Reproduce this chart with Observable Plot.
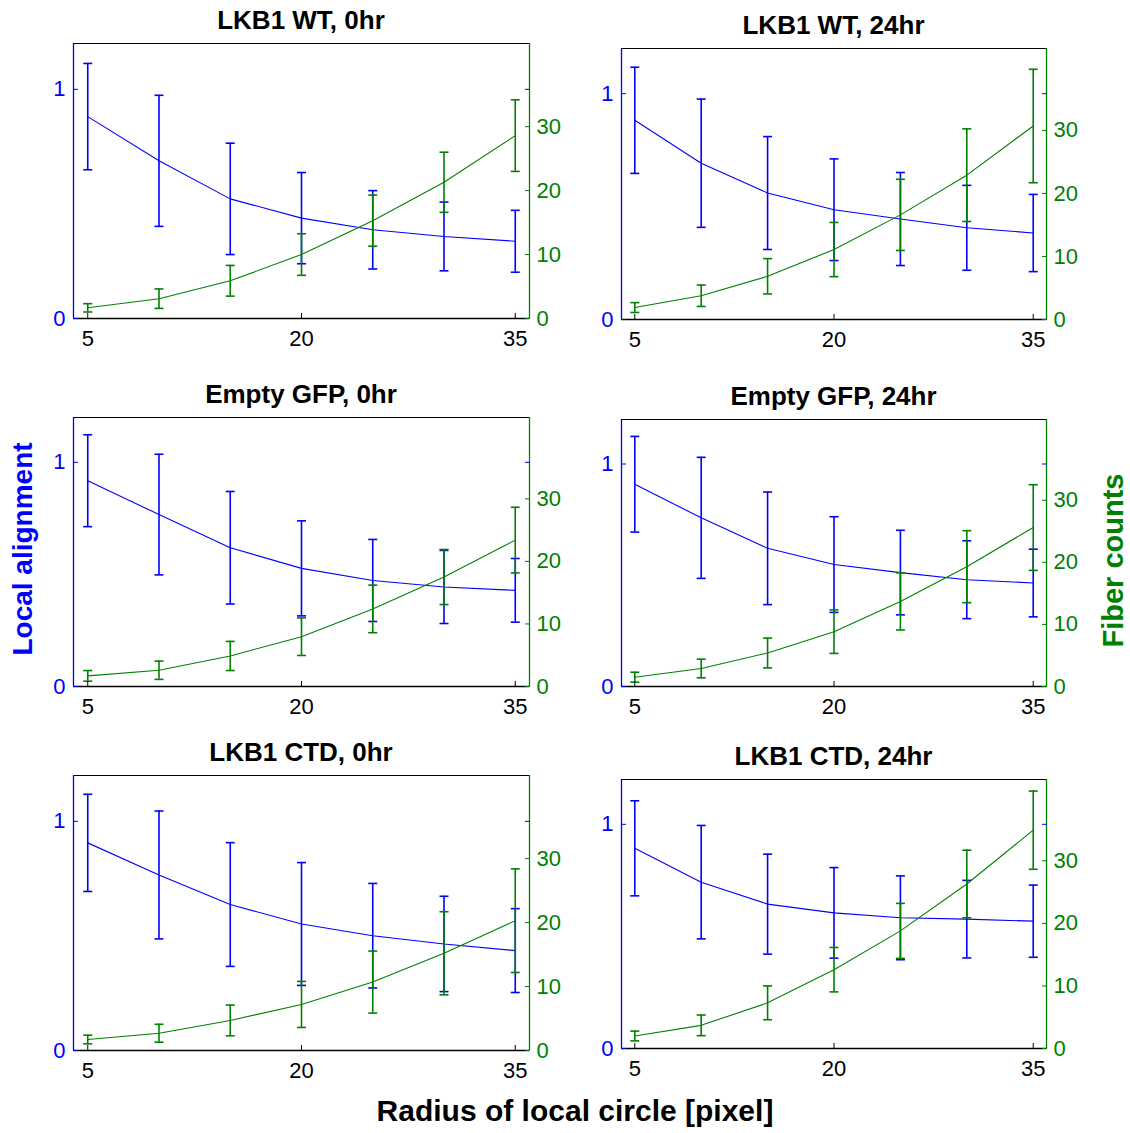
<!DOCTYPE html>
<html><head><meta charset="utf-8">
<script src="https://cdn.jsdelivr.net/npm/d3@7"></script>
<script src="https://cdn.jsdelivr.net/npm/@observablehq/plot@0.6"></script>
<style>
body{margin:0;background:#fff;}
#root{position:relative;width:1130px;height:1133px;overflow:hidden;font-family:"Liberation Sans",Arial,Helvetica,sans-serif;}
.t{position:absolute;white-space:nowrap;font-weight:bold;text-align:center;}
.p{position:absolute;}
</style></head><body><div id="root"></div>
<script>
// ---------- data ----------
const radii = [5, 10, 15, 20, 25, 30, 35];
const panelTitles = ["LKB1 WT, 0hr", "LKB1 WT, 24hr", "Empty GFP, 0hr", "Empty GFP, 24hr", "LKB1 CTD, 0hr", "LKB1 CTD, 24hr"];
const xTicks = [5, 20, 35];
const alignTicks = [0, 1];
const fiberTicks = [0, 10, 20, 30];
const xDomain = [4, 36];
const alignDomain = [0, 1.2];
const fiberDomain = [0, 43];
const yLabelLeft = "Local alignment";
const yLabelRight = "Fiber counts";
const xLabel = "Radius of local circle [pixel]";

const wt0AlignMean = [0.881, 0.688, 0.522, 0.438, 0.387, 0.358, 0.337];
const wt0AlignSd   = [0.232, 0.286, 0.243, 0.199, 0.171, 0.150, 0.135];
const wt0FiberMean = [1.67, 3.1, 5.9, 10.0, 15.3, 21.3, 28.6];
const wt0FiberSd   = [0.65, 1.52, 2.4, 3.25, 4.0, 4.7, 5.6];

const wt24AlignMean = [0.882, 0.692, 0.56, 0.486, 0.445, 0.406, 0.383];
const wt24AlignSd   = [0.235, 0.284, 0.25, 0.225, 0.206, 0.188, 0.171];
const wt24FiberMean = [1.9, 3.77, 6.86, 11.1, 16.6, 22.9, 30.7];
const wt24FiberSd   = [0.78, 1.7, 2.8, 4.3, 5.65, 7.35, 9.0];

const gfp0AlignMean = [0.918, 0.767, 0.619, 0.527, 0.473, 0.444, 0.429];
const gfp0AlignSd   = [0.205, 0.269, 0.251, 0.212, 0.183, 0.163, 0.142];
const gfp0FiberMean = [1.7, 2.6, 4.88, 7.96, 12.4, 17.5, 23.4];
const gfp0FiberSd   = [0.85, 1.46, 2.33, 3.0, 3.8, 4.4, 5.25];

const gfp24AlignMean = [0.909, 0.758, 0.621, 0.548, 0.512, 0.48, 0.465];
const gfp24AlignSd   = [0.215, 0.272, 0.253, 0.215, 0.19, 0.175, 0.152];
const gfp24FiberMean = [1.5, 2.9, 5.4, 8.83, 13.7, 19.3, 25.6];
const gfp24FiberSd   = [0.8, 1.5, 2.4, 3.5, 4.6, 5.8, 6.9];

const ctd0AlignMean = [0.906, 0.766, 0.637, 0.552, 0.501, 0.465, 0.436];
const ctd0AlignSd   = [0.212, 0.279, 0.27, 0.268, 0.228, 0.208, 0.183];
const ctd0FiberMean = [1.72, 2.7, 4.7, 7.2, 10.7, 15.2, 20.3];
const ctd0FiberSd   = [0.68, 1.4, 2.4, 3.6, 4.85, 6.5, 8.1];

const ctd24AlignMean = [0.893, 0.742, 0.644, 0.605, 0.583, 0.577, 0.568];
const ctd24AlignSd   = [0.212, 0.253, 0.223, 0.202, 0.187, 0.173, 0.161];
const ctd24FiberMean = [2.0, 3.7, 7.3, 12.6, 18.8, 26.3, 34.9];
const ctd24FiberSd   = [0.78, 1.65, 2.7, 3.55, 4.4, 5.4, 6.25];

// ---------- layout ----------
const BLUE = "#0000ff", GREEN = "#008000";
const FONT = "'Liberation Sans', Arial, Helvetica, sans-serif";
const frames = [
  {left: 73, right: 529, top: 43, bottom: 318},
  {left: 621, right: 1046, top: 48, bottom: 319},
  {left: 73, right: 529, top: 417, bottom: 686},
  {left: 621, right: 1046, top: 419, bottom: 686},
  {left: 73, right: 529, top: 775, bottom: 1050},
  {left: 621, right: 1046, top: 779, bottom: 1048}
];
const panels = [
  [wt0AlignMean, wt0AlignSd, wt0FiberMean, wt0FiberSd],
  [wt24AlignMean, wt24AlignSd, wt24FiberMean, wt24FiberSd],
  [gfp0AlignMean, gfp0AlignSd, gfp0FiberMean, gfp0FiberSd],
  [gfp24AlignMean, gfp24AlignSd, gfp24FiberMean, gfp24FiberSd],
  [ctd0AlignMean, ctd0AlignSd, ctd0FiberMean, ctd0FiberSd],
  [ctd24AlignMean, ctd24AlignSd, ctd24FiberMean, ctd24FiberSd]
];

const k = alignDomain[1] / fiberDomain[1]; // fiber counts -> shared y scale
const capSymbol = {draw(ctx, size) { const r = Math.sqrt(size / Math.PI); ctx.moveTo(-r, 0); ctx.lineTo(r, 0); }};

function rows(mean, sd, s) {
  return radii.map((r, i) => ({r, m: mean[i] * s, lo: (mean[i] - sd[i]) * s, hi: (mean[i] + sd[i]) * s}));
}
function seriesMarks(data, color) {
  return [
    Plot.ruleX(data, {x: "r", y1: "lo", y2: "hi", stroke: color, strokeWidth: 1.6}),
    Plot.dot(data, {x: "r", y: "lo", symbol: capSymbol, r: 4.5, stroke: color, strokeWidth: 1.6, fill: "none"}),
    Plot.dot(data, {x: "r", y: "hi", symbol: capSymbol, r: 4.5, stroke: color, strokeWidth: 1.6, fill: "none"}),
    Plot.line(data, {x: "r", y: "m", stroke: color, strokeWidth: 1.1})
  ];
}

const root = document.getElementById("root");
const ML = 50, MR = 50, MT = 10, MB = 40;

frames.forEach((f, i) => {
  const [am, as, fm, fs] = panels[i];
  const align = rows(am, as, 1);
  const fiber = rows(fm, fs, k);
  const w = f.right - f.left + ML + MR;
  const h = f.bottom - f.top + MT + MB;
  const chart = Plot.plot({
    width: w, height: h,
    marginLeft: ML, marginRight: MR, marginTop: MT, marginBottom: MB,
    x: {domain: xDomain},
    y: {domain: alignDomain},
    style: {fontFamily: FONT, fontSize: "22px", background: "transparent", overflow: "visible"},
    marks: [
      ...seriesMarks(align, BLUE),
      ...seriesMarks(fiber, GREEN),
      Plot.ruleY([alignDomain[0]], {stroke: "black", strokeWidth: 1.3}),
      Plot.ruleY([alignDomain[1]], {stroke: "black", strokeWidth: 1.2}),
      Plot.ruleX([xDomain[0]], {stroke: BLUE, strokeWidth: 1.3}),
      Plot.ruleX([xDomain[1]], {stroke: GREEN, strokeWidth: 1.3}),
      Plot.axisX(xTicks, {anchor: "bottom", tickSize: -5, tickPadding: 17, color: "black", label: null, fontSize: 22, tickFormat: d => String(d)}),
      Plot.axisY(alignTicks, {anchor: "left", tickSize: -5, tickPadding: 13, color: BLUE, label: null, fontSize: 22, tickFormat: d => String(d)}),
      Plot.axisY(alignTicks, {anchor: "right", tickSize: -5, tickFormat: () => "", color: BLUE, label: null}),
      Plot.axisY(fiberTicks.map(v => v * k), {anchor: "right", tickSize: -5, tickPadding: 12, tickFormat: d => String(Math.round(d / k)), color: GREEN, label: null, fontSize: 22})
    ]
  });
  const wrap = document.createElement("div");
  wrap.className = "p";
  wrap.style.left = (f.left - ML) + "px";
  wrap.style.top = (f.top - MT) + "px";
  wrap.appendChild(chart);
  root.appendChild(wrap);

  const t = document.createElement("div");
  t.className = "t";
  t.textContent = panelTitles[i];
  const cx = (f.left + f.right) / 2;
  t.style.left = (cx - 200) + "px";
  t.style.width = "400px";
  t.style.top = (f.top - 38) + "px";
  t.style.fontSize = "26px";
  t.style.lineHeight = "30px";
  t.style.color = "#000";
  root.appendChild(t);
});

function addLabel(text, cx, cy, size, color, rotate) {
  const d = document.createElement("div");
  d.className = "t";
  d.textContent = text;
  const W = 500, LH = Math.round(size * 1.15);
  d.style.width = W + "px";
  d.style.left = (cx - W / 2) + "px";
  d.style.top = (cy - LH / 2) + "px";
  d.style.lineHeight = LH + "px";
  d.style.fontSize = size + "px";
  d.style.color = color;
  if (rotate) { d.style.transform = "rotate(-90deg)"; d.style.transformOrigin = "50% 50%"; }
  root.appendChild(d);
}
addLabel(yLabelLeft, 23, 549, 28, BLUE, true);
addLabel(yLabelRight, 1113, 560, 29, GREEN, true);
addLabel(xLabel, 575, 1110, 30, "#000", false);
</script>
</body></html>
